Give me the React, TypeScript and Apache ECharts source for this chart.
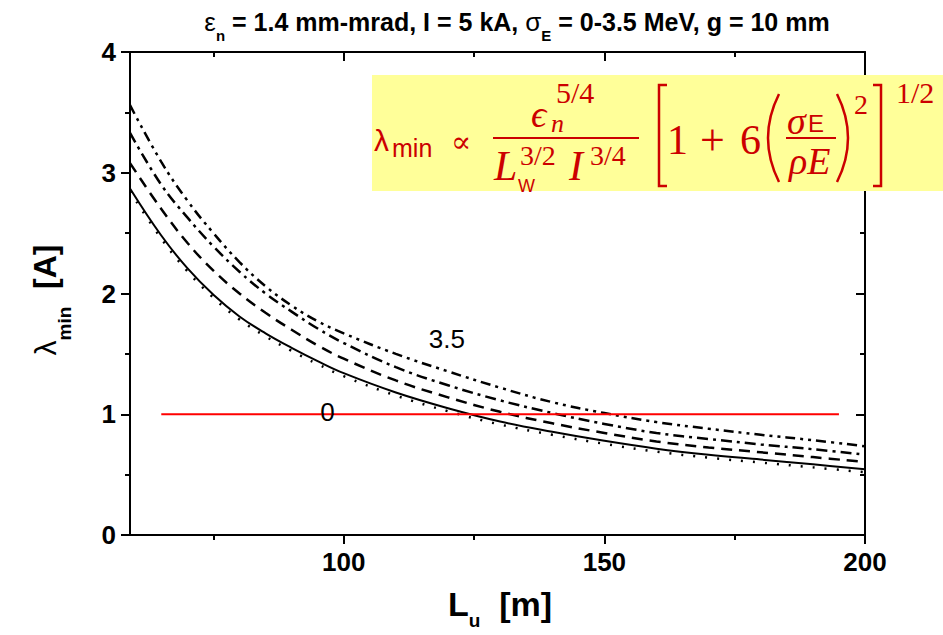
import React, { useEffect, useRef } from "react";
import * as echarts from "echarts";

// ---- data ----
const Lu = [59, 65, 70, 75, 80, 85, 90, 95, 100, 110, 120, 130, 140, 150, 160, 170, 180, 190, 200];
const lamDotted = [2.845, 2.455, 2.185, 1.965, 1.785, 1.645, 1.525, 1.415, 1.315, 1.155, 1.025, 0.915, 0.83, 0.755, 0.69, 0.64, 0.6, 0.56, 0.52];
const lamSolid = [2.87, 2.48, 2.21, 1.99, 1.81, 1.67, 1.55, 1.44, 1.34, 1.18, 1.05, 0.94, 0.855, 0.78, 0.715, 0.665, 0.625, 0.585, 0.545];
const lamDashed = [3.08, 2.7, 2.42, 2.19, 2.0, 1.84, 1.7, 1.57, 1.46, 1.28, 1.14, 1.02, 0.925, 0.845, 0.775, 0.725, 0.685, 0.645, 0.605];
const lamDashDot = [3.33, 2.9, 2.63, 2.39, 2.18, 2.0, 1.85, 1.71, 1.59, 1.39, 1.24, 1.115, 1.01, 0.92, 0.845, 0.795, 0.75, 0.71, 0.665];
const lamDashDotDot = [3.56, 3.09, 2.77, 2.5, 2.26, 2.06, 1.9, 1.77, 1.67, 1.5, 1.355, 1.22, 1.1, 1.01, 0.935, 0.88, 0.83, 0.785, 0.735];

const refLineX = [65, 195];
const refLineY = [1, 1];

const annotText = ["3.5", "0"];
const annotX = [119.8, 96.9];
const annotY = [1.62, 1.02];

const xMajorTicks = [100, 150, 200];
const xMinorTicks = [75, 125, 175];

const X_MIN = 59;
const X_MAX = 200;
const Y_MIN = 0;
const Y_MAX = 4;

const RED = "#cc0000";
const SANS = "'Liberation Sans', Arial, Helvetica, sans-serif";
const SERIF = "'Liberation Serif', 'DejaVu Serif', serif";

function pairs(ys: number[]) {
  return Lu.map((x, i) => [x, ys[i]]);
}

function curve(name: string, ys: number[], type: any, width: number) {
  return {
    name,
    type: "line",
    xAxisIndex: 0,
    yAxisIndex: 0,
    data: pairs(ys),
    showSymbol: false,
    symbol: "none",
    smooth: 0.4,
    z: 2,
    lineStyle: { color: "#000", width, type, cap: "butt" },
  };
}

function ft(text: string, x: number, y: number, size: number, family: string, italic = false) {
  return {
    type: "text",
    x,
    y,
    z: 102,
    style: {
      text,
      fontSize: size,
      fontFamily: family,
      fontStyle: italic ? "italic" : "normal",
      fill: RED,
      align: "left",
      textAlign: "left",
      verticalAlign: "middle",
      textVerticalAlign: "middle",
    },
  };
}

export default function App() {
  const ref = useRef<HTMLDivElement>(null);
  useEffect(() => {
    if (!ref.current) return;
    const chart = echarts.init(ref.current, null, { renderer: "svg" });
    const axisLineStyle = { color: "#000", width: 2 };
    const gridBox = { left: 130, right: 78, top: 52, bottom: 100, containLabel: false, outerBoundsMode: "none" };

    const option: any = {
      animation: false,
      backgroundColor: "#fff",
      grid: [gridBox, gridBox],
      xAxis: [
        {
          type: "value", gridIndex: 0, position: "bottom", min: X_MIN, max: X_MAX,
          axisLine: { show: true, onZero: false, lineStyle: axisLineStyle },
          axisTick: { show: true, inside: false, length: 9, customValues: xMajorTicks, lineStyle: axisLineStyle },
          axisLabel: { customValues: xMajorTicks, fontSize: 26, fontWeight: "bold", color: "#000", fontFamily: SANS, margin: 14 },
          splitLine: { show: false },
        },
        {
          type: "value", gridIndex: 0, position: "top", min: X_MIN, max: X_MAX,
          axisLine: { show: true, onZero: false, lineStyle: axisLineStyle },
          axisTick: { show: true, inside: true, length: 9, customValues: xMajorTicks, lineStyle: axisLineStyle },
          axisLabel: { show: false },
          splitLine: { show: false },
        },
        {
          type: "value", gridIndex: 1, position: "bottom", min: X_MIN, max: X_MAX,
          axisLine: { show: false, onZero: false },
          axisTick: { show: true, inside: false, length: 5, customValues: xMinorTicks, lineStyle: axisLineStyle },
          axisLabel: { show: false },
          splitLine: { show: false },
        },
        {
          type: "value", gridIndex: 1, position: "top", min: X_MIN, max: X_MAX,
          axisLine: { show: false, onZero: false },
          axisTick: { show: true, inside: true, length: 5, customValues: xMinorTicks, lineStyle: axisLineStyle },
          axisLabel: { show: false },
          splitLine: { show: false },
        },
      ],
      yAxis: [
        {
          type: "value", gridIndex: 0, position: "left", min: Y_MIN, max: Y_MAX, interval: 1,
          axisLine: { show: true, onZero: false, lineStyle: axisLineStyle },
          axisTick: { show: true, inside: false, length: 9, lineStyle: axisLineStyle },
          minorTick: { show: true, splitNumber: 2, length: 5, lineStyle: axisLineStyle },
          axisLabel: { fontSize: 26, fontWeight: "bold", color: "#000", fontFamily: SANS, margin: 14 },
          splitLine: { show: false },
          minorSplitLine: { show: false },
        },
        {
          type: "value", gridIndex: 0, position: "right", min: Y_MIN, max: Y_MAX, interval: 1,
          axisLine: { show: true, onZero: false, lineStyle: axisLineStyle },
          axisTick: { show: true, inside: true, length: 9, lineStyle: axisLineStyle },
          minorTick: { show: true, splitNumber: 2, length: 5, lineStyle: axisLineStyle },
          axisLabel: { show: false },
          splitLine: { show: false },
          minorSplitLine: { show: false },
        },
        { type: "value", gridIndex: 1, show: false, min: Y_MIN, max: Y_MAX },
      ],
      series: [
        curve("σE = 0 (dotted)", lamDotted, [2, 10], 2.5),
        curve("solid", lamSolid, "solid", 2),
        curve("dashed", lamDashed, [11, 7], 2.5),
        curve("dash-dot", lamDashDot, [11, 5, 3, 5], 2.5),
        curve("dash-dot-dot", lamDashDotDot, [10, 5, 3, 5, 3, 5], 2.5),
        {
          name: "λ = 1",
          type: "line",
          xAxisIndex: 0,
          yAxisIndex: 0,
          data: refLineX.map((x, i) => [x, refLineY[i]]),
          showSymbol: false,
          symbol: "none",
          z: 3,
          lineStyle: { color: "#ff0000", width: 2 },
        },
        {
          name: "labels",
          type: "scatter",
          xAxisIndex: 0,
          yAxisIndex: 0,
          symbolSize: 0,
          z: 4,
          itemStyle: { color: "#000", opacity: 1 },
          emphasis: { disabled: true },
          data: annotText.map((t, i) => ({ name: t, value: [annotX[i], annotY[i]] })),
          label: {
            show: true,
            position: "inside",
            formatter: "{b}",
            fontSize: 26,
            fontWeight: "normal",
            fontFamily: SANS,
            color: "#000",
            opacity: 1,
            textBorderWidth: 0,
          },
        },
      ],
      graphic: [
        // title
        {
          type: "text",
          x: 517,
          y: 22,
          z: 100,
          style: {
            text: "{g|ε}{s|n}{t| = 1.4 mm-mrad, I = 5 kA, }{g|σ}{s|E}{t| = 0-3.5 MeV, g = 10 mm}",
            align: "center",
            textAlign: "center",
            verticalAlign: "middle",
            textVerticalAlign: "middle",
            rich: {
              t: { fontSize: 25, fontWeight: "bold", fontFamily: SANS, fill: "#000", lineHeight: 30 },
              g: { fontSize: 26, fontFamily: SANS, fill: "#000", lineHeight: 30 },
              s: { fontSize: 15, fontWeight: "bold", fontFamily: SANS, fill: "#000", verticalAlign: "bottom", height: 4 },
            },
          },
        },
        // y axis title
        {
          type: "text",
          x: 45,
          y: 300,
          rotation: Math.PI / 2,
          z: 100,
          style: {
            text: "{l|λ}{s|min}{t|  [A]}",
            align: "center",
            textAlign: "center",
            verticalAlign: "middle",
            textVerticalAlign: "middle",
            rich: {
              l: { fontSize: 30, fontFamily: SANS, fill: "#000", lineHeight: 40 },
              s: { fontSize: 19, fontWeight: "bold", fontFamily: SANS, fill: "#000", verticalAlign: "bottom", height: 2 },
              t: { fontSize: 32, fontWeight: "bold", fontFamily: SANS, fill: "#000", lineHeight: 40 },
            },
          },
        },
        // x axis title
        {
          type: "text",
          x: 500,
          y: 604,
          z: 100,
          style: {
            text: "{t|L}{s|u}{t|  [m]}",
            align: "center",
            textAlign: "center",
            verticalAlign: "middle",
            textVerticalAlign: "middle",
            rich: {
              t: { fontSize: 34, fontWeight: "bold", fontFamily: SANS, fill: "#000", lineHeight: 38 },
              s: { fontSize: 19, fontWeight: "bold", fontFamily: SANS, fill: "#000", verticalAlign: "bottom", height: 6 },
            },
          },
        },
        // formula box
        { type: "rect", z: 101, shape: { x: 372, y: 75, width: 571, height: 116 }, style: { fill: "#ffff99" } },
        ft("λ", 374, 140, 30, SANS),
        ft("min", 392, 148, 25, SANS),
        ft("∝", 451, 141, 30, SERIF),
        { type: "line", z: 102, shape: { x1: 493, y1: 138, x2: 639, y2: 138 }, style: { stroke: RED, lineWidth: 2 } },
        ft("ϵ", 531, 114, 38, SERIF, true),
        ft("n", 551, 123, 26, SERIF, true),
        ft("5/4", 556, 92, 30, SERIF),
        ft("L", 494, 166, 42, SERIF, true),
        ft("3/2", 520, 155, 28, SERIF),
        ft("W", 518, 186, 18, SANS),
        ft("I", 569, 166, 42, SERIF, true),
        ft("3/4", 590, 155, 28, SERIF),
        { type: "polyline", z: 102, shape: { points: [[667, 85], [659, 85], [659, 186], [667, 186]] }, style: { stroke: RED, lineWidth: 2.5, fill: null } },
        ft("1", 667, 140, 42, SERIF),
        ft("+", 700, 140, 44, SERIF),
        ft("6", 740, 140, 42, SERIF),
        { type: "bezierCurve", z: 102, shape: { x1: 779, y1: 94, cpx1: 757, cpy1: 138, x2: 779, y2: 182 }, style: { stroke: RED, lineWidth: 2.5, fill: null } },
        ft("σ", 787, 121, 38, SERIF, true),
        ft("E", 808, 123, 24, SANS),
        { type: "line", z: 102, shape: { x1: 786, y1: 138, x2: 836, y2: 138 }, style: { stroke: RED, lineWidth: 2 } },
        ft("ρE", 789, 161, 38, SERIF, true),
        { type: "bezierCurve", z: 102, shape: { x1: 837, y1: 94, cpx1: 859, cpy1: 138, x2: 837, y2: 182 }, style: { stroke: RED, lineWidth: 2.5, fill: null } },
        ft("2", 854, 104, 28, SERIF),
        { type: "polyline", z: 102, shape: { points: [[873, 85], [881, 85], [881, 186], [873, 186]] }, style: { stroke: RED, lineWidth: 2.5, fill: null } },
        ft("1/2", 896, 92, 30, SERIF),
      ],
    };
    chart.setOption(option);
    return () => chart.dispose();
  }, []);
  return <div ref={ref} style={{ position: "absolute", left: 0, top: 0, width: 943, height: 635 }} />;
}
